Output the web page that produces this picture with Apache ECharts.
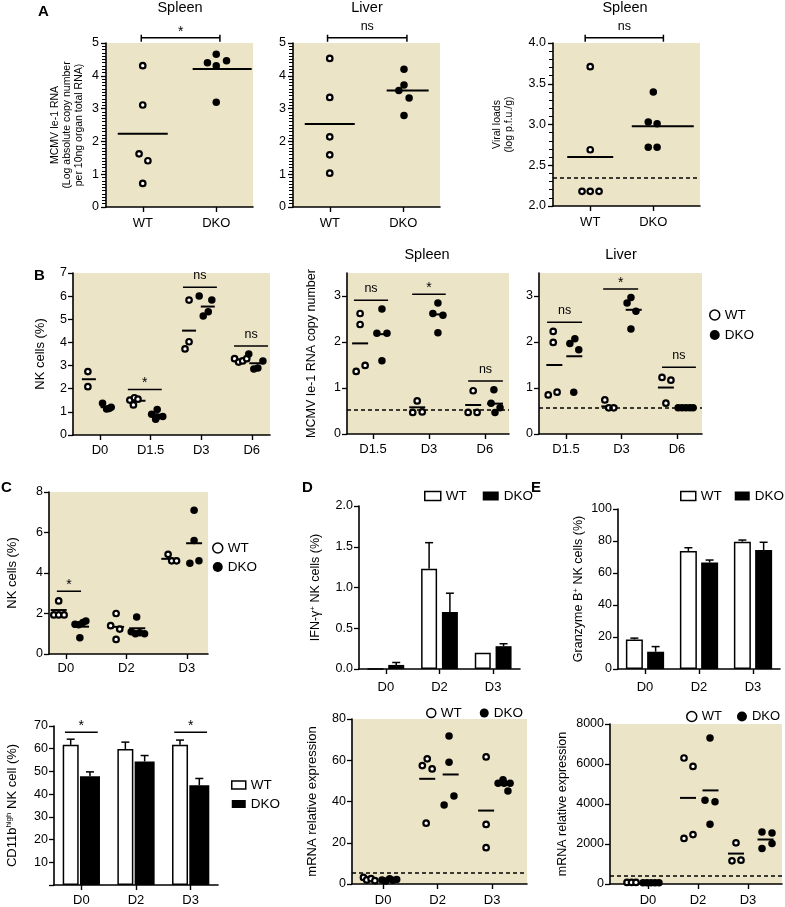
<!DOCTYPE html>
<html><head><meta charset="utf-8">
<script src="https://cdn.jsdelivr.net/npm/echarts@6/dist/echarts.min.js"></script>
<style>html,body{margin:0;padding:0;background:#fff}#c{width:785px;height:907px}</style>
</head><body><div id="c"></div><script>
// ================= DATA =================
const catsA = ['WT', 'DKO'];
const catsB1 = ['D0', 'D1.5', 'D3', 'D6'];
const catsB = ['D1.5', 'D3', 'D6'];
const catsD = ['D0', 'D2', 'D3'];

// A - Spleen MCMV Ie-1 RNA
const spleenRnaWT = [4.31, 3.11, 1.62, 1.41, 0.72];
const spleenRnaDKO = [4.66, 4.40, 4.31, 4.46, 3.19];
const spleenRnaMean = [2.23, 4.21];
// A - Liver MCMV Ie-1 RNA
const liverRnaWT = [4.53, 3.34, 2.14, 1.59, 1.03];
const liverRnaDKO = [4.20, 3.72, 3.55, 3.32, 2.79];
const liverRnaMean = [2.53, 3.55];
// A - Spleen viral loads
const viralWT = [3.71, 2.69, 2.18, 2.18, 2.18];
const viralDKO = [3.40, 3.03, 3.01, 2.72, 2.72];
const viralMean = [2.60, 2.98];
const viralLimit = 2.35;
const sigA = ['*', 'ns', 'ns'];

// B - NK cells (%)
const nkBWT = [[2.74, 2.09], [1.51, 1.30, 1.61, 1.55], [5.83, 4.03, 3.72], [3.30, 3.15, 3.20, 3.30]];
const nkBDKO = [[1.37, 1.12, 1.15, 1.20], [1.10, 0.90, 0.78, 0.68, 0.80], [6.01, 5.83, 5.33, 5.14], [3.50, 2.85, 2.90, 3.20]];
const nkBMeanWT = [2.41, 1.48, 4.51, 3.24];
const nkBMeanDKO = [1.20, 0.88, 5.55, 3.10];
const nkBSig = ['', '*', 'ns', 'ns'];
// B - Spleen MCMV Ie-1 RNA copy number
const spleenKinWT = [[2.62, 2.38, 1.49, 1.36], [0.72, 0.47, 0.48], [0.94, 0.47, 0.47]];
const spleenKinDKO = [[2.72, 2.19, 2.19, 1.59], [2.85, 2.62, 2.58, 2.20], [0.96, 0.67, 0.47, 0.57]];
const spleenKinMeanWT = [1.97, 0.58, 0.63];
const spleenKinMeanDKO = [2.17, 2.60, 0.66];
const spleenKinSig = ['ns', '*', 'ns'];
const spleenKinLimit = 0.53;
// B - Liver
const liverKinWT = [[2.23, 1.99, 0.85, 0.91], [0.74, 0.57, 0.57], [1.23, 1.17, 0.67]];
const liverKinDKO = [[1.97, 2.07, 1.83, 0.91], [2.97, 2.85, 2.67, 2.28], [0.57, 0.57, 0.57, 0.57, 0.57]];
const liverKinMeanWT = [1.50, 0.60, 1.01];
const liverKinMeanDKO = [1.69, 2.70, 0.57];
const liverKinSig = ['ns', '*', 'ns'];
const liverKinLimit = 0.57;

// C - NK cells (%)
const nkCWT = [[2.62, 1.93, 1.93, 1.93], [2.00, 1.40, 1.23, 0.72], [4.92, 4.60, 4.60]];
const nkCDKO = [[1.47, 1.45, 1.55, 1.63, 0.80], [1.83, 1.10, 1.00, 1.05, 1.00], [7.10, 5.60, 4.48, 4.60]];
const nkCMeanWT = [2.17, 1.34, 4.70];
const nkCMeanDKO = [1.35, 1.27, 5.47];
const nkCSig = ['*', '', ''];
// C - CD11b high NK cell (%)
const cd11bWT = [61.7, 59.9, 61.7];
const cd11bWTErr = [2.5, 3.0, 2.1];
const cd11bDKO = [47.9, 54.4, 43.9];
const cd11bDKOErr = [1.9, 2.6, 3.0];
const cd11bSig = ['*', '', '*'];

// D - IFN-gamma+ NK cells (%)
const ifngWT = [0, 1.23, 0.20];
const ifngWTErr = [0, 0.32, 0];
const ifngDKO = [0.05, 0.70, 0.28];
const ifngDKOErr = [0.03, 0.23, 0.03];
// D - mRNA relative expression
const ifnMrnaWT = [[3.2, 2.0, 2.6, 1.6], [57.4, 60.7, 55.8, 29.5], [61.6, 28.9, 17.6]];
const ifnMrnaDKO = [[2.0, 1.5, 2.5, 1.8, 2.2], [71.8, 59.0, 42.7, 38.3], [50.5, 48.8, 48.8, 48.8, 45.1]];
const ifnMrnaMeanWT = [2.4, 51.0, 35.6];
const ifnMrnaMeanDKO = [2.0, 53.1, 49.0];
const ifnMrnaLimit = 5.6;

// E - Granzyme B+ NK cells (%)
const gzmbWT = [18.5, 73.8, 79.6];
const gzmbWTErr = [0.8, 2.0, 1.0];
const gzmbDKO = [10.8, 66.5, 74.4];
const gzmbDKOErr = [3.2, 1.6, 4.8];
// E - mRNA relative expression
const gzmbMrnaWT = [[80, 80, 80], [6300, 5880, 2280, 2470], [2060, 1160, 1190]];
const gzmbMrnaDKO = [[60, 60, 60, 60, 60], [7300, 4190, 4110, 2990], [2600, 2550, 1770, 2030]];
const gzmbMrnaMeanWT = [null, 4305, 1521];
const gzmbMrnaMeanDKO = [null, 4680, 2225];
const gzmbMrnaLimit = 392;

// ================= LAYOUT / STYLE =================
const FONT = '"Liberation Sans", Arial, Helvetica, sans-serif';
const BEIGE = '#ECE4C7';
const BLACK = '#000';

const grids = [], xAxes = [], yAxes = [], series = [], minorAxes = [];

function ls(w) { return { color: BLACK, width: w }; }

function addGrid(rect, bg) {
  const g = grids.length;
  grids.push(Object.assign({ show: true, backgroundColor: bg ? BEIGE : 'transparent', borderWidth: 0 }, rect));
  return g;
}

function addValueX(g, min, max, labels, margin) {
  const ticks = labels.map((_, i) => i + 1);
  xAxes.push({
    type: 'value', gridIndex: g, min, max,
    axisLine: { onZero: false, lineStyle: ls(1.6) },
    axisTick: { show: true, length: 5, customValues: ticks, lineStyle: ls(1.4) },
    axisLabel: { customValues: ticks, formatter: v => labels[Math.round(v) - 1], color: BLACK, fontSize: 13, fontFamily: FONT, margin: margin || 9 },
    splitLine: { show: false }
  });
}

function addCatX(g, cats, margin) {
  xAxes.push({
    type: 'category', gridIndex: g, data: cats, boundaryGap: true,
    axisLine: { onZero: false, lineStyle: ls(1.6) },
    axisTick: { show: true, alignWithLabel: true, length: 5, lineStyle: ls(1.4) },
    axisLabel: { color: BLACK, fontSize: 13, fontFamily: FONT, margin: margin || 10 },
    splitLine: { show: false }
  });
}

function addY(g, o) {
  const tick = { show: true, length: 5, lineStyle: ls(1.3) };
  const lab = { color: BLACK, fontSize: 12.5, fontFamily: FONT, margin: o.margin || 6 };
  if (o.ticks) { tick.customValues = o.ticks; lab.customValues = o.ticks; }
  if (o.fmt) lab.formatter = o.fmt;
  const ax = {
    type: 'value', gridIndex: g, min: o.min, max: o.max, interval: o.interval,
    axisLine: { show: true, onZero: false, lineStyle: ls(1.6) },
    axisTick: tick,
    axisLabel: lab,
    splitLine: { show: false },
    name: o.name, nameLocation: 'middle', nameRotate: 90, nameGap: o.gap,
    nameTextStyle: {
      color: BLACK, fontSize: o.nameSize || 12, fontFamily: FONT, lineHeight: o.nameLH || 14,
      rich: { sup: { fontSize: 8, fontFamily: FONT, color: BLACK, verticalAlign: 'top', lineHeight: 14 } }
    }
  };
  if (o.minor) {
    ax.minorTick = { show: true, splitNumber: Math.round(o.interval / o.minor), length: 4, lineStyle: { color: BLACK, width: 1 } };
    // dense minor ticks (GraphPad style) also as a label-less overlay axis in the same grid
    minorAxes.push({
      type: 'value', gridIndex: g, min: o.min, max: o.max, interval: o.minor, position: 'left',
      axisLine: { show: false }, axisLabel: { show: false }, splitLine: { show: false },
      axisTick: { show: true, length: 4, lineStyle: { color: BLACK, width: 1 } }
    });
  }
  yAxes.push(ax);
}

function pts(vals2d, offs2d, start) {
  const out = [];
  vals2d.forEach((arr, i) => arr.forEach((v, j) => out.push([start + i + offs2d[i][j], v])));
  return out;
}
function meanPts(vals, offs, start, w) {
  const out = [];
  vals.forEach((m, i) => { if (m != null) out.push({ value: [start + i + offs[i], m], symbolSize: [w, 2] }); });
  return out;
}

function scatterSet(g, wt, dko, jit, wtStart, dkoStart, meanWT, meanDKO, limit) {
  const mw = jit.mw;
  const wWT = Array.isArray(mw) ? mw[0] : mw, wDKO = Array.isArray(mw) ? mw[1] : mw;
  const meanSeries = {
    type: 'scatter', name: 'mean', xAxisIndex: g, yAxisIndex: g, symbol: 'rect', silent: true, z: 3,
    itemStyle: { color: BLACK, opacity: 1 }, emphasis: { disabled: true },
    data: meanPts(meanWT, jit.mWT, wtStart, wWT).concat(meanPts(meanDKO, jit.mDKO, dkoStart, wDKO))
  };
  if (limit != null) {
    meanSeries.markLine = {
      silent: true, symbol: ['none', 'none'], label: { show: false },
      lineStyle: { color: BLACK, type: [4, 3], width: 1.5, opacity: 1 }, emphasis: { disabled: true },
      data: [{ yAxis: limit }]
    };
  }
  series.push(meanSeries);
  series.push({
    type: 'scatter', name: 'WT', xAxisIndex: g, yAxisIndex: g, symbol: 'circle', symbolSize: 5.5, silent: true, z: 4,
    itemStyle: { color: '#fff', borderColor: BLACK, borderWidth: 2.2, opacity: 1 }, emphasis: { disabled: true },
    data: pts(wt, jit.wt, wtStart)
  });
  series.push({
    type: 'scatter', name: 'DKO', xAxisIndex: g, yAxisIndex: g, symbol: 'circle', symbolSize: 7.5, silent: true, z: 4,
    itemStyle: { color: BLACK, opacity: 1 }, emphasis: { disabled: true },
    data: pts(dko, jit.dko, dkoStart)
  });
}

function bracketSeries(g, items, isCat) {
  return {
    type: 'custom', xAxisIndex: g, yAxisIndex: g, silent: true, z: 6, clip: false,
    encode: { x: 0, y: 1 },
    data: items.map(it => isCat ? [it.c, it.y, it.f1, it.f2] : [it.x1, it.y, it.x2, 0]),
    renderItem: (params, api) => {
      const it = items[params.dataIndex];
      let x1, x2, y;
      if (isCat) {
        const p = api.coord([api.value(0), api.value(1)]);
        const bw = api.size([1, 0])[0];
        x1 = p[0] + api.value(2) * bw; x2 = p[0] + api.value(3) * bw; y = p[1];
      } else {
        const p1 = api.coord([api.value(0), api.value(1)]);
        const p2 = api.coord([api.value(2), api.value(1)]);
        x1 = p1[0]; x2 = p2[0]; y = p1[1];
      }
      const st = { stroke: BLACK, lineWidth: 1.5 };
      const ch = [{ type: 'line', shape: { x1, y1: y, x2, y2: y }, style: st }];
      if (it.ends) {
        ch.push({ type: 'line', shape: { x1, y1: y - 3, x2: x1, y2: y + 4 }, style: st });
        ch.push({ type: 'line', shape: { x1: x2, y1: y - 3, x2, y2: y + 4 }, style: st });
      }
      const star = it.t === '*';
      ch.push({
        type: 'text', x: (x1 + x2) / 2, y: star ? y + 1 : y - 5,
        style: { text: it.t, fill: BLACK, font: (star ? '14px ' : '12.5px ') + FONT, textAlign: 'center', textVerticalAlign: 'bottom' }
      });
      return { type: 'group', children: ch };
    }
  };
}

function barSet(g, wt, wtErr, dko, dkoErr, wW, wD, gap) {
  series.push({
    type: 'bar', name: 'WT', xAxisIndex: g, yAxisIndex: g, data: wt, barWidth: wW, barGap: (gap * 100) + '%', silent: true, z: 2,
    itemStyle: { color: '#fff', borderColor: BLACK, borderWidth: 1.5 }, emphasis: { disabled: true }
  });
  series.push({
    type: 'bar', name: 'DKO', xAxisIndex: g, yAxisIndex: g, data: dko, barWidth: wD, barGap: (gap * 100) + '%', silent: true, z: 2,
    itemStyle: { color: BLACK }, emphasis: { disabled: true }
  });
  [[wt, wtErr, 0], [dko, dkoErr, 1]].forEach(([vals, errs, side]) => {
    series.push({
      type: 'custom', xAxisIndex: g, yAxisIndex: g, silent: true, z: 5, clip: false, encode: { x: 0, y: 1 },
      data: vals.map((v, i) => [i, v, errs[i]]),
      renderItem: (params, api) => {
        const e = api.value(2);
        if (!e) return null;
        const c = api.value(0), v = api.value(1);
        const b = api.coord([c, v]), t = api.coord([c, v + e]);
        const total = wW * (1 + gap) + wD;
        const cx = side === 0 ? b[0] - total / 2 + wW / 2 : b[0] + total / 2 - wD / 2;
        const st = { stroke: BLACK, lineWidth: 1.5 };
        return { type: 'group', children: [
          { type: 'line', shape: { x1: cx, y1: b[1], x2: cx, y2: t[1] }, style: st },
          { type: 'line', shape: { x1: cx - 4, y1: t[1], x2: cx + 4, y2: t[1] }, style: st }
        ] };
      }
    });
  });
}

function sigItems(sig, ys, fs) {
  const out = [];
  sig.forEach((t, i) => { if (t) out.push({ c: i + 1, x1: i + 1 + fs[i][0], x2: i + 1 + fs[i][1], y: ys[i], t }); });
  return out;
}

// ---------- Panel A ----------
let g;
g = addGrid({ left: 106, top: 43, width: 147, height: 164 }, true);
addValueX(g, 0.5, 2.5, catsA, 10);
addY(g, { min: 0, max: 5, interval: 1, minor: 0.1, margin: 7, gap: 21, nameSize: 10.5, nameLH: 12,
  name: 'MCMV Ie-1 RNA\n(Log absolute copy number\nper 10ng organ total RNA)' });
scatterSet(g, [spleenRnaWT], [spleenRnaDKO], { wt: [[0, 0, -0.05, 0.07, 0]], dko: [[0, -0.12, 0, 0.14, 0]], mWT: [0], mDKO: [0.08], mw: [50, 59] }, 1, 2, [spleenRnaMean[0]], [spleenRnaMean[1]]);
series.push(bracketSeries(g, [{ x1: 0.98, x2: 2.05, y: 5.16, t: sigA[0], ends: true }], false));

g = addGrid({ left: 293, top: 43, width: 147, height: 164 }, true);
addValueX(g, 0.5, 2.5, catsA, 10);
addY(g, { min: 0, max: 5, interval: 1, minor: 0.1, margin: 7 });
scatterSet(g, [liverRnaWT], [liverRnaDKO], { wt: [[0, 0, 0, 0, 0]], dko: [[0.01, 0.01, -0.06, 0.08, 0.01]], mWT: [0], mDKO: [0.06], mw: [50, 42] }, 1, 2, [liverRnaMean[0]], [liverRnaMean[1]]);
series.push(bracketSeries(g, [{ x1: 0.97, x2: 2.05, y: 5.16, t: sigA[1], ends: true }], false));

g = addGrid({ left: 553, top: 43, width: 147, height: 163 }, true);
addValueX(g, 0.41, 2.74, catsA, 10);
addY(g, { min: 2, max: 4, interval: 0.5, minor: 0.1, margin: 7, fmt: v => v.toFixed(1), gap: 38, nameSize: 10.5, nameLH: 12,
  name: 'Viral loads\n(log p.f.u./g)' });
scatterSet(g, [viralWT], [viralDKO], { wt: [[0, 0, -0.13, 0, 0.14]], dko: [[0, -0.08, 0.06, -0.08, 0.06]], mWT: [0], mDKO: [0.15], mw: [46, 62] }, 1, 2, [viralMean[0]], [viralMean[1]], viralLimit);
series.push(bracketSeries(g, [{ x1: 0.92, x2: 2.16, y: 4.065, t: sigA[2], ends: true }], false));

// ---------- Panel B ----------
g = addGrid({ left: 73, top: 273, width: 197, height: 162 }, true);
addValueX(g, 0.466, 4.36, catsB1, 9);
addY(g, { min: 0, max: 7, interval: 1, gap: 26, nameSize: 13, name: 'NK cells (%)' });
scatterSet(g, nkBWT, nkBDKO, {
  wt: [[-0.24, -0.24], [-0.41, -0.34, -0.32, -0.25], [-0.24, -0.24, -0.32], [-0.34, -0.26, -0.18, -0.10]],
  dko: [[0.05, 0.13, 0.18, 0.22], [0.13, 0.02, 0.12, 0.10, 0.24], [-0.04, 0.21, 0.14, 0.04], [-0.06, 0.04, 0.12, 0.22]],
  mWT: [-0.22, -0.24, -0.24, -0.22], mDKO: [0.15, 0.13, 0.13, 0.09], mw: 14 }, 1, 1, nkBMeanWT, nkBMeanDKO);
series.push(bracketSeries(g, sigItems(nkBSig, [0, 1.97, 6.38, 3.85], [null, [-0.45, 0.22], [-0.36, 0.31], [-0.35, 0.32]]), false));

g = addGrid({ left: 347, top: 273, width: 162, height: 161 }, true);
addValueX(g, 0.536, 3.43, catsB, 9);
addY(g, { min: 0, max: 3.5, interval: 1, ticks: [0, 1, 2, 3], gap: 28, nameSize: 12.5, name: 'MCMV Ie-1 RNA copy number' });
scatterSet(g, spleenKinWT, spleenKinDKO, {
  wt: [[-0.23, -0.23, -0.14, -0.30], [-0.21, -0.29, -0.12], [-0.21, -0.30, -0.14]],
  dko: [[0.16, 0.07, 0.25, 0.16], [0.16, 0.07, 0.25, 0.16], [0.16, 0.11, 0.18, 0.27]],
  mWT: [-0.23, -0.21, -0.21], mDKO: [0.16, 0.16, 0.18], mw: 16 }, 1, 1, spleenKinMeanWT, spleenKinMeanDKO, spleenKinLimit);
series.push(bracketSeries(g, sigItems(spleenKinSig, [2.91, 3.04, 1.15], [[-0.34, 0.27], [-0.30, 0.30], [-0.30, 0.32]]), false));

g = addGrid({ left: 539, top: 273, width: 163, height: 161 }, true);
addValueX(g, 0.514, 3.45, catsB, 9);
addY(g, { min: 0, max: 3.5, interval: 1, ticks: [0, 1, 2, 3] });
scatterSet(g, liverKinWT, liverKinDKO, {
  wt: [[-0.23, -0.23, -0.32, -0.16], [-0.30, -0.23, -0.14], [-0.27, -0.11, -0.20]],
  dko: [[0.07, 0.16, 0.23, 0.14], [0.17, 0.10, 0.26, 0.17], [0.02, 0.09, 0.16, 0.23, 0.29]],
  mWT: [-0.21, -0.22, -0.20], mDKO: [0.15, 0.22, 0.16], mw: 16 }, 1, 1, liverKinMeanWT, liverKinMeanDKO, liverKinLimit);
series.push(bracketSeries(g, sigItems(liverKinSig, [2.43, 3.15, 1.45], [[-0.34, 0.29], [-0.33, 0.30], [-0.27, 0.34]]), false));

// ---------- Panel C ----------
g = addGrid({ left: 49, top: 492, width: 159, height: 162 }, true);
addValueX(g, 0.72, 3.35, catsD, 8);
addY(g, { min: 0, max: 8, interval: 2, gap: 30, nameSize: 13, name: 'NK cells (%)' });
scatterSet(g, nkCWT, nkCDKO, {
  wt: [[-0.12, -0.20, -0.12, -0.03], [-0.17, -0.26, -0.11, -0.17], [-0.31, -0.25, -0.17]],
  dko: [[0.15, 0.21, 0.28, 0.33, 0.23], [0.17, 0.08, 0.15, 0.22, 0.30], [0.12, 0.12, 0.05, 0.20]],
  mWT: [-0.12, -0.17, -0.29], mDKO: [0.25, 0.18, 0.12], mw: 16 }, 1, 1, nkCMeanWT, nkCMeanDKO);
series.push(bracketSeries(g, sigItems(nkCSig, [3.1, 0, 0], [[-0.15, 0.25], null, null]), false));

g = addGrid({ left: 54, top: 726, width: 164, height: 161 }, false);
addCatX(g, catsD, 9);
addY(g, { min: 0, max: 70, interval: 10, fmt: v => (v === 0 ? '' : String(v)), gap: 35, nameSize: 13,
  name: 'CD11b{sup|high} NK cell (%)' });
barSet(g, cd11bWT, cd11bWTErr, cd11bDKO, cd11bDKOErr, 16, 20, 0.08);
series.push(bracketSeries(g, cd11bSig.map((t, i) => t ? { c: i, f1: -0.3, f2: 0.3, y: 67.2, t } : null).filter(Boolean), true));

// ---------- Panel D ----------
g = addGrid({ left: 359, top: 506, width: 161, height: 163 }, false);
addCatX(g, catsD, 12);
addY(g, { min: 0, max: 2, interval: 0.5, fmt: v => v.toFixed(1), gap: 36, nameSize: 12.5, name: 'IFN-γ{sup|+} NK cells (%)' });
barSet(g, ifngWT, ifngWTErr, ifngDKO, ifngDKOErr, 16, 16, 0.3);

g = addGrid({ left: 352, top: 719, width: 175, height: 167 }, true);
addValueX(g, 0.43, 3.64, catsD, 10);
addY(g, { min: 0, max: 80, interval: 20, gap: 33, nameSize: 13, name: 'mRNA relative expression' });
scatterSet(g, ifnMrnaWT, ifnMrnaDKO, {
  wt: [[-0.36, -0.30, -0.22, -0.15], [-0.28, -0.19, -0.10, -0.21], [-0.11, -0.11, -0.11]],
  dko: [[-0.02, 0.05, 0.12, 0.18, 0.25], [0.21, 0.21, 0.30, 0.12], [0.20, 0.11, 0.22, 0.33, 0.29]],
  mWT: [-0.25, -0.19, -0.11], mDKO: [0.12, 0.24, 0.22], mw: 16 }, 1, 1, ifnMrnaMeanWT, ifnMrnaMeanDKO, ifnMrnaLimit);

// ---------- Panel E ----------
g = addGrid({ left: 618, top: 509, width: 162, height: 160 }, false);
addCatX(g, catsD, 12);
addY(g, { min: 0, max: 100, interval: 20, gap: 32, nameSize: 12.5, name: 'Granzyme B{sup|+} NK cells (%)' });
barSet(g, gzmbWT, gzmbWTErr, gzmbDKO, gzmbDKOErr, 17, 17, 0.25);

g = addGrid({ left: 610, top: 724, width: 172, height: 163 }, true);
addValueX(g, 0.24, 3.68, catsD, 10);
addY(g, { min: 0, max: 8000, interval: 2000, fmt: v => String(v), gap: 40, nameSize: 12.5, name: 'mRNA relative expression' });
scatterSet(g, gzmbMrnaWT, gzmbMrnaDKO, {
  wt: [[-0.42, -0.33, -0.24], [-0.28, -0.10, -0.28, -0.10], [-0.24, -0.32, -0.14]],
  dko: [[-0.10, -0.02, 0.06, 0.14, 0.22], [0.24, 0.14, 0.34, 0.24], [0.28, 0.48, 0.28, 0.48]],
  mWT: [0, -0.20, -0.24], mDKO: [0, 0.25, 0.35], mw: 16 }, 1, 1, gzmbMrnaMeanWT, gzmbMrnaMeanDKO, gzmbMrnaLimit);

// ---------- Titles & legends ----------
function ttl(text, left, top, size, bold, center) {
  return { text, left, top, padding: 0, textAlign: center ? 'center' : 'left',
    textStyle: { color: BLACK, fontSize: size, fontWeight: bold ? 'bold' : 'normal', fontFamily: FONT } };
}
const titles = [
  ttl('A', 38, 4, 15, true), ttl('B', 34, 268, 15, true), ttl('C', 1, 480, 15, true),
  ttl('D', 302, 480, 15, true), ttl('E', 531, 480, 15, true),
  ttl('Spleen', 180, 0, 14.5, false, true), ttl('Liver', 367, 0, 14.5, false, true), ttl('Spleen', 625, 0, 14.5, false, true),
  ttl('Spleen', 427, 247, 14.5, false, true), ttl('Liver', 621, 247, 14.5, false, true)
];

function leg(left, top, orient, icon, iw, ih, gap, fs) {
  return {
    left, top, orient, itemWidth: iw, itemHeight: ih, itemGap: gap, padding: 0, selectedMode: false,
    textStyle: { color: BLACK, fontSize: fs || 13.5, fontFamily: FONT },
    data: [
      { name: 'WT', icon, itemStyle: { color: '#fff', borderColor: BLACK, borderWidth: 1.5, opacity: 1 } },
      { name: 'DKO', icon, itemStyle: { color: BLACK, borderColor: BLACK, borderWidth: 0, opacity: 1 } }
    ]
  };
}
const legends = [
  leg(709, 308, 'vertical', 'circle', 10, 10, 6),
  leg(212, 541, 'vertical', 'circle', 10, 10, 5),
  leg(231, 778, 'vertical', 'rect', 14, 8, 5),
  leg(424, 489, 'horizontal', 'rect', 16, 9, 16),
  leg(426, 706, 'horizontal', 'circle', 9, 9, 18),
  leg(680, 489, 'horizontal', 'rect', 15, 9, 13),
  leg(686, 710, 'horizontal', 'circle', 10, 10, 15, 13)
];

const chart = echarts.init(document.getElementById('c'), null, { renderer: 'canvas', width: 785, height: 907 });
chart.setOption({
  animation: false,
  backgroundColor: '#fff',
  textStyle: { fontFamily: FONT },
  title: titles,
  legend: legends,
  grid: grids,
  xAxis: xAxes,
  yAxis: yAxes.concat(minorAxes),
  series: series
});
</script></body></html>
